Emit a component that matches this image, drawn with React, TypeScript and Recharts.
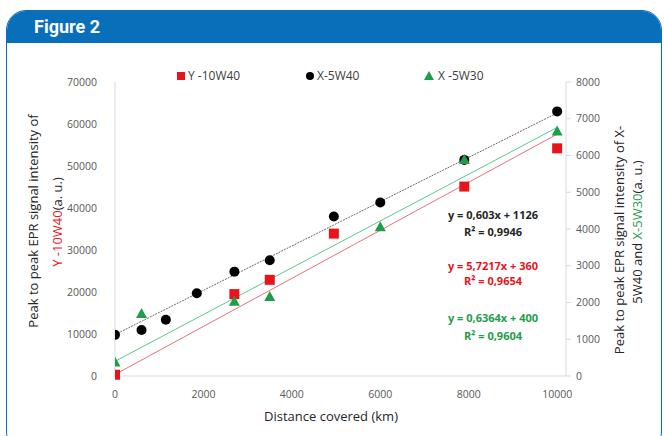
import React from 'react';
import { ScatterChart, Scatter, XAxis, YAxis, Legend } from 'recharts';

// distance covered (km) and signal per sample series
const y10w40Km = [0, 2700, 3500, 4950, 7900, 10000];
const y10w40Val = [300, 19500, 22900, 33900, 45100, 54200];

const x5w40Km = [0, 600, 1150, 1850, 2700, 3500, 4950, 6000, 7900, 10000];
const x5w40Val = [1120, 1250, 1530, 2250, 2840, 3150, 4340, 4720, 5880, 7200];

const x5w30Km = [0, 600, 2700, 3500, 6000, 7900, 10000];
const x5w30Val = [370, 1690, 2020, 2150, 4050, 5880, 6650];

// trend line end points (from the fitted equations)
const trendKm = [0, 10000];
const y10w40Trend = [360, 57577];
const x5w40Trend = [1126, 7156];
const x5w30Trend = [400, 6764];

const xTicks = [0, 2000, 4000, 6000, 8000, 10000];
const leftTicks = [0, 10000, 20000, 30000, 40000, 50000, 60000, 70000];
const rightTicks = [0, 1000, 2000, 3000, 4000, 5000, 6000, 7000, 8000];

const RED = '#e8141b';
const BLACK = '#000000';
const GREEN = '#1e9e4a';
const BLUE = '#0a6fba';
const FONT = '"Open Sans", sans-serif';

const toPoints = (xs: number[], ys: number[]) => xs.map((x, i) => ({ x, y: ys[i] }));

const Square = (p: any) => <rect x={p.cx - 5} y={p.cy - 5} width={10} height={10} fill={RED} />;
const Dot = (p: any) => <circle cx={p.cx} cy={p.cy} r={5} fill={BLACK} />;
const Tri = (p: any) => (
  <polygon points={`${p.cx},${p.cy - 6} ${p.cx + 5.5},${p.cy + 4} ${p.cx - 5.5},${p.cy + 4}`} fill={GREEN} />
);
const NoShape = () => <g />;

const LegendBox = () => {
  const txt = { position: 'absolute' as const, top: 0, fontSize: 12, color: '#404040', fontFamily: FONT, lineHeight: '16px' };
  return (
    <div style={{ position: 'relative', height: 16 }}>
      <div style={{ position: 'absolute', left: 177, top: 4, width: 8, height: 8, background: RED }} />
      <span style={{ ...txt, left: 188 }}>Y -10W40</span>
      <div style={{ position: 'absolute', left: 306, top: 4, width: 8, height: 8, borderRadius: 4, background: BLACK }} />
      <span style={{ ...txt, left: 317 }}>X-5W40</span>
      <div
        style={{
          position: 'absolute', left: 424, top: 3, width: 0, height: 0,
          borderLeft: '5px solid transparent', borderRight: '5px solid transparent', borderBottom: `9px solid ${GREEN}`,
        }}
      />
      <span style={{ ...txt, left: 438 }}>X -5W30</span>
    </div>
  );
};

export default function App() {
  const tickStyle = { fontSize: 10.5, fill: '#595959', fontFamily: FONT };
  const eq = { fontSize: 11, fontWeight: 700, fontFamily: FONT, textAnchor: 'middle' as const };
  return (
    <div style={{ position: 'absolute', left: 0, top: 0, width: 664, height: 436, overflow: 'hidden', background: '#fff' }}>
      <div
        style={{
          position: 'absolute', left: 6, top: 10, width: 654, height: 440,
          border: `1.5px solid ${BLUE}`, borderRadius: 20, overflow: 'hidden',
        }}
      >
        <div
          style={{
            height: 32, background: BLUE, color: '#fff', fontFamily: 'Roboto, sans-serif',
            fontWeight: 700, fontSize: 18, lineHeight: '32px', paddingLeft: 27,
          }}
        >
          Figure 2
        </div>
      </div>

      <div style={{ position: 'absolute', left: 0, top: 0 }}>
        <ScatterChart width={664} height={436} margin={{ top: 66, right: 48, left: 65, bottom: 30 }}>
          <XAxis
            type="number"
            dataKey="x"
            domain={[0, 10200]}
            ticks={xTicks}
            tickLine={false}
            tickMargin={9}
            stroke="#d9d9d9"
            tick={tickStyle}
            height={30}
            allowDataOverflow
          />
          <YAxis
            yAxisId="left"
            type="number"
            dataKey="y"
            domain={[0, 70000]}
            ticks={leftTicks}
            tickLine={false}
            tickMargin={12}
            stroke="#d9d9d9"
            tick={tickStyle}
            width={50}
          />
          <YAxis
            yAxisId="right"
            orientation="right"
            type="number"
            dataKey="y"
            domain={[0, 8000]}
            ticks={rightTicks}
            tickSize={5}
            tickMargin={5}
            stroke="#d9d9d9"
            tick={tickStyle}
            width={50}
          />
          <Legend verticalAlign="top" wrapperStyle={{ top: 68, left: 0, width: 664 }} content={() => <LegendBox />} />

          <Scatter
            name="trend-y10w40"
            yAxisId="left"
            data={toPoints(trendKm, y10w40Trend)}
            line={{ stroke: '#e8707a', strokeWidth: 1 }}
            shape={NoShape}
            legendType="none"
            isAnimationActive={false}
          />
          <Scatter
            name="trend-x5w30"
            yAxisId="right"
            data={toPoints(trendKm, x5w30Trend)}
            line={{ stroke: '#5cc88a', strokeWidth: 1 }}
            shape={NoShape}
            legendType="none"
            isAnimationActive={false}
          />
          <Scatter
            name="trend-x5w40"
            yAxisId="right"
            data={toPoints(trendKm, x5w40Trend)}
            line={{ stroke: '#6a6a6a', strokeWidth: 1, strokeDasharray: '2 1' }}
            shape={NoShape}
            legendType="none"
            isAnimationActive={false}
          />

          <Scatter name="Y -10W40" yAxisId="left" data={toPoints(y10w40Km, y10w40Val)} shape={Square} isAnimationActive={false} />
          <Scatter name="X-5W40" yAxisId="right" data={toPoints(x5w40Km, x5w40Val)} shape={Dot} isAnimationActive={false} />
          <Scatter name="X -5W30" yAxisId="right" data={toPoints(x5w30Km, x5w30Val)} shape={Tri} isAnimationActive={false} />
        </ScatterChart>
      </div>

      <svg width={664} height={436} style={{ position: 'absolute', left: 0, top: 0, pointerEvents: 'none' }}>
        <g fontFamily={FONT} fontSize={13} fill="#262626">
          <text x={33} y={221} transform="rotate(-90 33 221)" textAnchor="middle" dominantBaseline="central">
            Peak to peak EPR signal intensity of
          </text>
          <text x={57} y={222} transform="rotate(-90 57 222)" textAnchor="middle" dominantBaseline="central">
            <tspan fill={RED}>Y -10W40</tspan>
            <tspan>(a. u.)</tspan>
          </text>
          <text x={619} y={240} transform="rotate(-90 619 240)" textAnchor="middle" dominantBaseline="central">
            Peak to peak EPR signal intensity of X-
          </text>
          <text x={637} y={232} transform="rotate(-90 637 232)" textAnchor="middle" dominantBaseline="central">
            <tspan>5W40  and </tspan>
            <tspan fill={GREEN}>X-5W30</tspan>
            <tspan>(a. u.)</tspan>
          </text>
          <text x={331} y={416} textAnchor="middle" dominantBaseline="central">
            Distance covered (km)
          </text>
        </g>
        <text x={493} y={219} fill="#262626" {...eq}>y = 0,603x + 1126</text>
        <text x={493} y={236} fill="#262626" {...eq}>R² = 0,9946</text>
        <text x={493} y={270} fill={RED} {...eq}>y = 5,7217x + 360</text>
        <text x={493} y={285} fill={RED} {...eq}>R² = 0,9654</text>
        <text x={493} y={322} fill={GREEN} {...eq}>y = 0,6364x + 400</text>
        <text x={493} y={340} fill={GREEN} {...eq}>R² = 0,9604</text>
      </svg>
    </div>
  );
}
